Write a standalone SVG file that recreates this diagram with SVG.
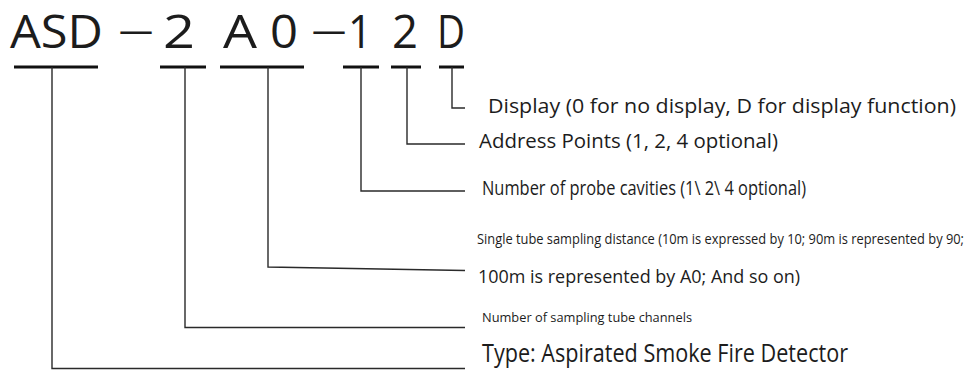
<svg xmlns="http://www.w3.org/2000/svg" width="968" height="376" viewBox="0 0 968 376">
<style>
.t{font-family:"Open Sans","Noto Sans","Liberation Sans",sans-serif;fill:#1c1c1c}
.code{font-size:46px}
.dash{font-size:34px}
.bar{stroke:#111;stroke-width:3;fill:none}
.conn{stroke:#2a2a2a;stroke-width:1.4;fill:none}
</style>
<rect width="968" height="376" fill="#ffffff"/>
<g id="title">
<text class="t code" x="10" y="48" textLength="93" lengthAdjust="spacingAndGlyphs">ASD</text>
<text class="t dash" x="119" y="42">—</text>
<text class="t code" x="163" y="48" textLength="32" lengthAdjust="spacingAndGlyphs">2</text>
<text class="t code" x="223" y="48" textLength="34" lengthAdjust="spacingAndGlyphs">A</text>
<text class="t code" x="270" y="48" textLength="28" lengthAdjust="spacingAndGlyphs">0</text>
<text class="t dash" x="312" y="42">—</text>
<text class="t code" x="348" y="48" textLength="24" lengthAdjust="spacingAndGlyphs">1</text>
<text class="t code" x="392" y="48" textLength="26" lengthAdjust="spacingAndGlyphs">2</text>
<text class="t code" x="437" y="48" textLength="28" lengthAdjust="spacingAndGlyphs">D</text>
</g>
<g id="type">
<line class="bar" x1="14" y1="67" x2="98" y2="67"/>
<text class="t" x="482" y="362" font-size="25" textLength="366" lengthAdjust="spacingAndGlyphs">Type: Aspirated Smoke Fire Detector</text>
</g>
<g id="channels">
<line class="bar" x1="160" y1="67" x2="206" y2="67"/>
<text class="t" x="482" y="322" font-size="12" textLength="210" lengthAdjust="spacingAndGlyphs">Number of sampling tube channels</text>
</g>
<g id="distance">
<line class="bar" x1="220" y1="67" x2="304" y2="67"/>
<text class="t" transform="translate(477,244) scale(1,1.25)" x="0" y="0" font-size="11.5" textLength="487" lengthAdjust="spacingAndGlyphs">Single tube sampling distance (10m is expressed by 10; 90m is represented by 90;</text>
<text class="t" x="478" y="283" font-size="18.5" textLength="322" lengthAdjust="spacingAndGlyphs">100m is represented by A0; And so on)</text>
</g>
<g id="cavities">
<line class="bar" x1="343" y1="67" x2="379" y2="67"/>
<text class="t" x="482" y="195" font-size="20" textLength="324" lengthAdjust="spacingAndGlyphs">Number of probe cavities (1\ 2\ 4 optional)</text>
</g>
<g id="address">
<line class="bar" x1="391" y1="67" x2="421" y2="67"/>
<text class="t" x="479" y="148" font-size="20.5" textLength="299" lengthAdjust="spacingAndGlyphs">Address Points (1, 2, 4 optional)</text>
</g>
<g id="display">
<line class="bar" x1="439" y1="67" x2="464" y2="67"/>
<text class="t" x="488" y="113" font-size="20.5" textLength="468" lengthAdjust="spacingAndGlyphs">Display (0 for no display, D for display function)</text>
</g>
<g id="connectors">
<polyline class="conn" points="52,67 52,368.5 465,368.5"/>
<polyline class="conn" points="185,67 185,327.5 465,327.5"/>
<polyline class="conn" points="268,67 268,267 465,270.5"/>
<polyline class="conn" points="361,67 361,191 465,191"/>
<polyline class="conn" points="407,67 407,144 465,144"/>
<polyline class="conn" points="452,67 452,108 465,108"/>
</g>
</svg>
